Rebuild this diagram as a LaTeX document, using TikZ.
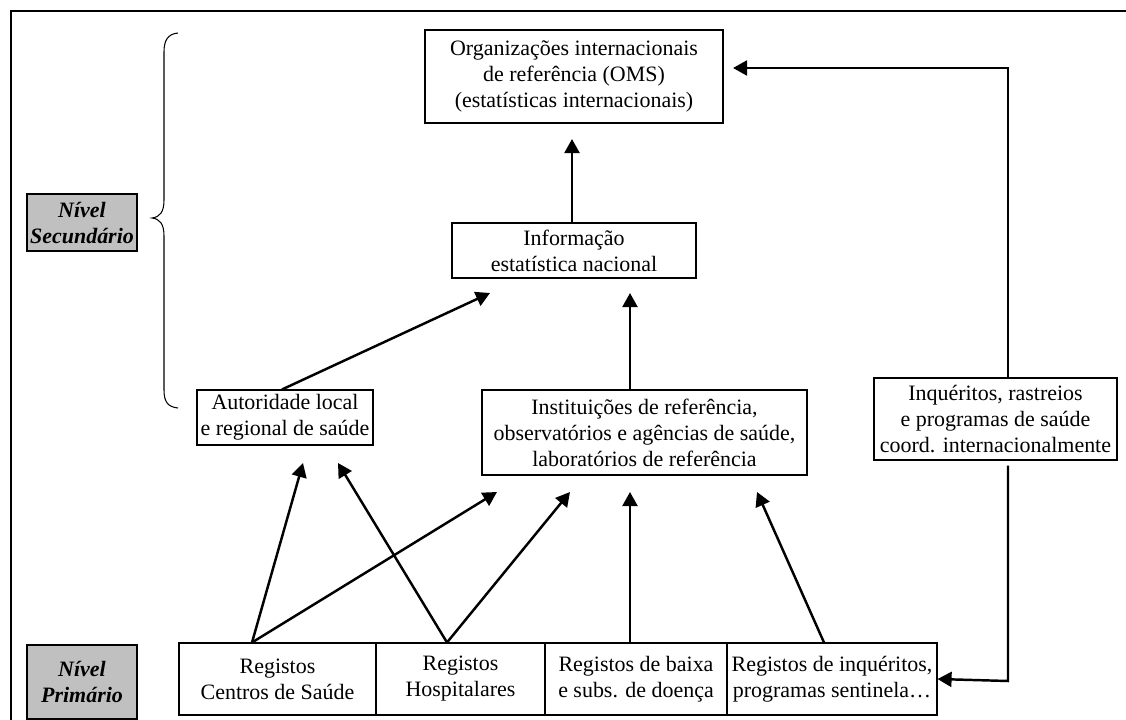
\documentclass[tikz,border=0pt]{standalone}
\usepackage{fontspec}
\setmainfont{Liberation Serif}
\usetikzlibrary{arrows.meta,calc}
\newcommand{\boxfont}{\fontsize{12.5}{14.8}\selectfont}
\definecolor{levelgray}{RGB}{192,192,192}
\tikzset{
  box/.style={draw, line width=0.6pt, align=center, inner sep=0pt, font=\boxfont},
  sz/.style 2 args={minimum width=#1*0.02cm, minimum height=#2*0.02cm},
  levelbox/.style={box, fill=levelgray, font=\boxfont\bfseries\itshape},
  arr/.style={line width=1.4pt, -{Triangle[length=8pt,width=8.5pt]}},
}

\begin{document}
\begin{tikzpicture}[x=0.02cm, y=-0.02cm]
  \useasboundingbox (0,0) rectangle (1126,720);
  \draw[line width=0.8pt] (11,720) -- (11,11) -- (1126,11);

  % level labels and brace
  \node[levelbox, sz={110}{57}] (nivsec) at (82,222.5) {Nível\\Secundário};
  \node[levelbox, sz={110}{74}] (nivprim) at (82,682) {Nível\\Primário};
  \draw[line width=0.6pt] (178,33) .. controls (168,34) and (164,40) .. (164,52) -- (164,200)
    .. controls (164,212) and (160,217) .. (152,218) .. controls (160,219) and (164,224) .. (164,236)
    -- (164,390) .. controls (164,402) and (168,407) .. (178,408);

  % upper boxes
  \node[box, sz={298}{93}] (oms) at (574,76.5) {Organizações internacionais\\de referência (OMS)\\(estatísticas internacionais)};
  \node[box, sz={244}{55}] (info) at (574,250.5) {Informação\\estatística nacional};
  \node[box, sz={176}{55}] (auth) at (285,417.5) {Autoridade local\\e regional de saúde};
  \node[box, sz={325}{85}] (inst) at (644.5,432.5) {Instituições de referência,\\observatórios e agências de saúde,\\laboratórios de referência};
  \node[box, sz={243}{82}] (inq) at (995.5,419) {Inquéritos, rastreios\\e programas de saúde\\coord. internacionalmente};

  % registers
  \node[box, sz={197}{72}] (regcs) at (277.5,679) {Registos\\Centros de Saúde};
  \node[box, sz={169}{72}] (reghosp) at (460.5,679) {Registos\\Hospitalares};
  \node[box, sz={182}{72}] (regbaixa) at (636,679) {Registos de baixa\\e subs. de doença};
  \node[box, sz={210}{72}] (reginq) at (832,679) {Registos de inquéritos,\\programas sentinela…};

  % free arrow ends
  \coordinate (omsin) at (572,139);
  \coordinate (infoin1) at (490,293);
  \coordinate (infoin2) at (630,293);
  \coordinate (authin1) at (303,463);
  \coordinate (authin2) at (338,463);
  \coordinate (instin1) at (497,492);
  \coordinate (instin2) at (570,492);
  \coordinate (instin3) at (630,492);
  \coordinate (instin4) at (757,492);
  \coordinate (omsright) at (733,68);
  \coordinate (topturn) at (1008,68);
  \coordinate (lowturn) at (1008,681);

  \draw[arr] ($(info.north)+(-2,0)$) -- (omsin);
  \draw[arr] ($(auth.north)+(-3,0)$) -- (infoin1);
  \draw[arr] ($(inst.north)+(-14.5,0)$) -- (infoin2);
  \draw[arr] ($(regcs.north)+(-25.5,0)$) -- (authin1);
  \draw[arr] ($(regcs.north)+(-25.5,0)$) -- (instin1);
  \draw[arr] ($(reghosp.north)+(-13.5,0)$) -- (authin2);
  \draw[arr] ($(reghosp.north)+(-13.5,0)$) -- (instin2);
  \draw[arr] ($(regbaixa.north)+(-6,0)$) -- (instin3);
  \draw[arr] ($(reginq.north)+(-8,0)$) -- (instin4);
  \draw[arr] (inq.north -| topturn) -- (topturn) -- (omsright);
  \draw[arr] ($(inq.south -| lowturn)+(0,5)$) -- (lowturn) -- (reginq.east);
\end{tikzpicture}
\end{document}
